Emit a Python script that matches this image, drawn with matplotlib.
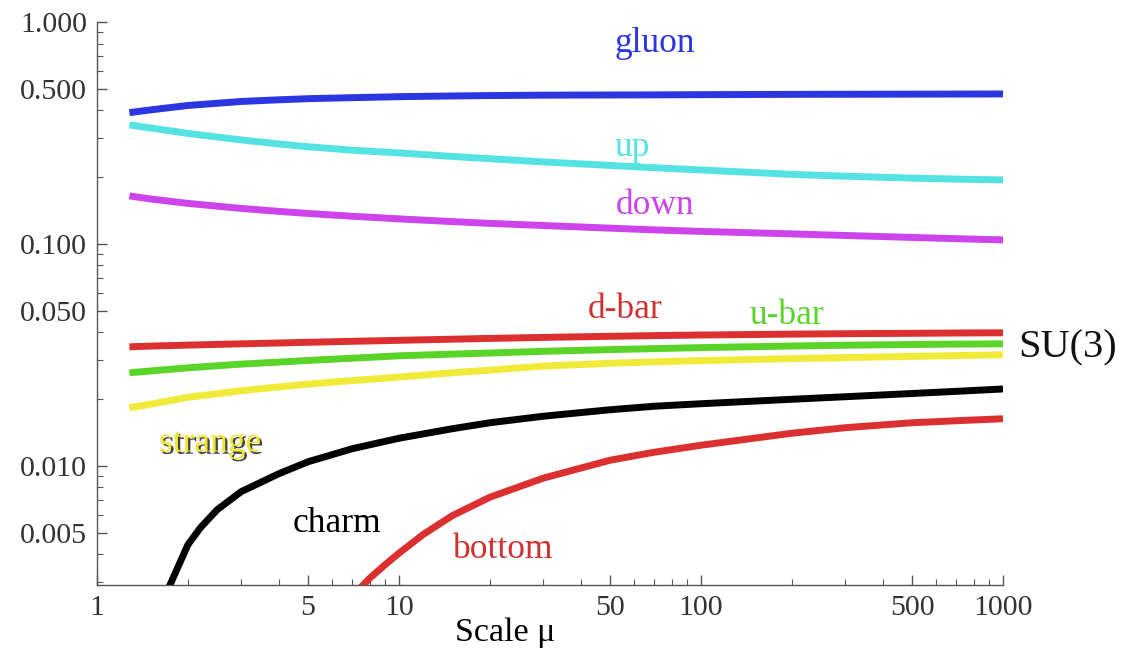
import matplotlib
matplotlib.use("Agg")
import matplotlib.pyplot as plt
import matplotlib.patheffects as pe
from matplotlib.ticker import FixedLocator, LogLocator, NullFormatter, FixedFormatter

# Parton momentum fractions vs. scale mu (log-log)
mu_grid = [1.28, 1.5, 2, 3, 4, 5, 7, 10, 15, 20, 30, 50, 70, 100, 200, 300, 500, 700, 1000]

gluon = [0.3903, 0.4015, 0.4205, 0.4383, 0.4460, 0.4512, 0.4560, 0.4607, 0.4641, 0.4660,
         0.4680, 0.4689, 0.4694, 0.4704, 0.4719, 0.4724, 0.4729, 0.4734, 0.4739]
up = [0.3436, 0.3331, 0.3147, 0.2941, 0.2821, 0.2740, 0.2643, 0.2570, 0.2478, 0.2420,
      0.2341, 0.2257, 0.2204, 0.2154, 0.2056, 0.2018, 0.1979, 0.1958, 0.1942]
down = [0.1645, 0.1594, 0.1522, 0.1445, 0.1401, 0.1371, 0.1332, 0.1296, 0.1260, 0.1237,
        0.1210, 0.1177, 0.1156, 0.1138, 0.1109, 0.1091, 0.1069, 0.1055, 0.1042]
dbar = [0.03436, 0.03461, 0.03497, 0.03544, 0.03574, 0.03600, 0.03637, 0.03675, 0.03718, 0.03749,
        0.03788, 0.03831, 0.03859, 0.03883, 0.03919, 0.03936, 0.03952, 0.03965, 0.03973]
ubar = [0.02624, 0.02673, 0.02763, 0.02871, 0.02931, 0.02983, 0.03052, 0.03129, 0.03185, 0.03221,
        0.03279, 0.03337, 0.03372, 0.03407, 0.03464, 0.03493, 0.03519, 0.03533, 0.03544]
strange = [0.01825, 0.01892, 0.02035, 0.02177, 0.02265, 0.02332, 0.02420, 0.02509, 0.02624, 0.02698,
           0.02812, 0.02895, 0.02940, 0.02977, 0.03039, 0.03071, 0.03110, 0.03136, 0.03162]

mu_charm = [1.7, 1.8, 2, 2.2, 2.5, 3, 4, 5, 7, 10, 15, 20, 30, 50, 70, 100, 200, 300, 500, 700, 1000]
charm = [0.00268, 0.003195, 0.004405, 0.005256, 0.006334, 0.007636, 0.009204, 0.010423, 0.01193,
         0.01330, 0.014678, 0.015622, 0.01671, 0.01788, 0.01854, 0.01903, 0.01993, 0.02046,
         0.02116, 0.02164, 0.02218]

mu_bottom = [7.3, 7.6, 8, 9, 10, 12, 15, 20, 30, 50, 70, 100, 200, 300, 500, 700, 1000]
bottom = [0.002749, 0.002895, 0.003112, 0.003581, 0.004035, 0.004889, 0.005953, 0.007212,
          0.008785, 0.010588, 0.011502, 0.012370, 0.014011, 0.014834, 0.015622, 0.015950, 0.016285]

x_major = [1, 5, 10, 50, 100, 500, 1000]
x_major_labels = ["1", "5", "10", "50", "100", "500", "1000"]
y_major = [0.005, 0.01, 0.05, 0.1, 0.5, 1.0]
y_major_labels = ["0.005", "0.010", "0.050", "0.100", "0.500", "1.000"]

plt.rcParams["font.family"] = ["Liberation Serif", "DejaVu Serif"]

fig = plt.figure(figsize=(11.36, 6.56), dpi=100)
ax = fig.add_axes([97 / 1136, 71 / 656, 906 / 1136, 563 / 656])
ax.set_xscale("log")
ax.set_yscale("log")
ax.set_xlim(1, 1000)
ax.set_ylim(0.0029, 1.0)

lw = 5.0
series = [
    (mu_grid, gluon, "#2b35e0"),
    (mu_grid, up, "#55e2e2"),
    (mu_grid, down, "#cc44ea"),
    (mu_grid, dbar, "#dc3030"),
    (mu_grid, ubar, "#5ad428"),
    (mu_grid, strange, "#f2ea38"),
    (mu_charm, charm, "#000000"),
    (mu_bottom, bottom, "#dc3030"),
]
for xs, ys, c in series:
    ax.plot(xs, ys, color=c, lw=lw, solid_capstyle="butt", solid_joinstyle="round")

# axes styling
for s in ("top", "right"):
    ax.spines[s].set_visible(False)
for s in ("left", "bottom"):
    ax.spines[s].set_color("#555555")
    ax.spines[s].set_linewidth(1.0)

ax.xaxis.set_major_locator(FixedLocator(x_major))
ax.xaxis.set_major_formatter(FixedFormatter(x_major_labels))
ax.xaxis.set_minor_locator(LogLocator(base=10, subs=(2, 3, 4, 6, 7, 8, 9)))
ax.xaxis.set_minor_formatter(NullFormatter())
ax.yaxis.set_major_locator(FixedLocator(y_major))
ax.yaxis.set_major_formatter(FixedFormatter(y_major_labels))
ax.yaxis.set_minor_locator(LogLocator(base=10, subs=(2, 3, 4, 6, 7, 8, 9)))
ax.yaxis.set_minor_formatter(NullFormatter())

ax.tick_params(which="major", direction="in", length=7, width=1.0, color="#555555",
               labelsize=21.5, labelcolor="#333333", pad=7)
ax.tick_params(which="minor", direction="in", length=4, width=0.8, color="#555555")

ax.set_xlabel("Scale μ", fontsize=24.5)
ax.xaxis.set_label_coords((505 - 97) / 906, -0.058)

# curve labels
def lab(x, y, s, color, size=25.5, **kw):
    fig.text(x / 1136, 1 - y / 656, s, color=color, fontsize=size,
             ha="center", va="center", **kw)

lab(655, 44, "gluon", "#2b35e0")
lab(632, 148, "up", "#55e2e2")
lab(655, 205, "down", "#cc44ea")
lab(625, 310, "d-bar", "#d03030")
lab(787, 316, "u-bar", "#5ad428")
lab(1068, 348, "SU(3)", "#111111", size=29)
lab(210, 443, "strange", "#f0e430",
    path_effects=[pe.withSimplePatchShadow(offset=(1.6, -1.6), shadow_rgbFace="#222222", alpha=0.85)])
lab(337, 523, "charm", "#000000")
lab(503, 550, "bottom", "#d03030")

fig.savefig("out.png", dpi=100)
